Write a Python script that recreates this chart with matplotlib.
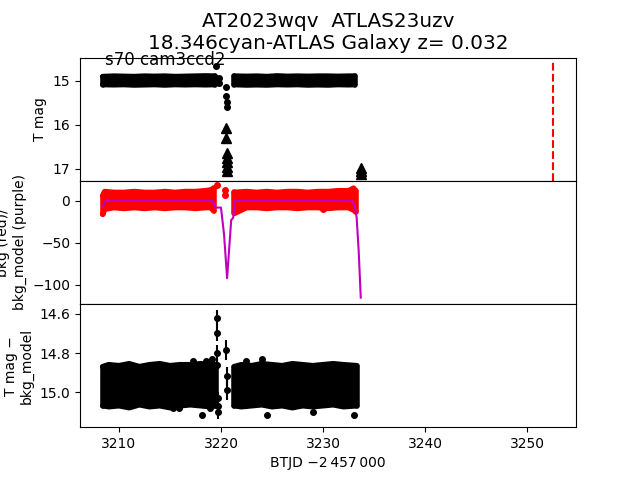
import matplotlib
matplotlib.use("Agg")
import matplotlib.pyplot as plt
import numpy as np

# ---------------- data ----------------
title_l1 = "AT2023wqv  ATLAS23uzv"
title_l2 = "18.346cyan-ATLAS Galaxy z= 0.032"
sector_label = "s70 cam3ccd2"
t_disc = 3252.5

# top panel: T mag band envelopes
tm_t1 = [3208.4, 3209.5, 3210.5, 3211.5, 3212.5, 3213.5, 3214.5, 3215.5, 3216.5, 3217.5, 3218.5, 3219.4]
tm_hi1 = [14.91, 14.90, 14.905, 14.91, 14.90, 14.905, 14.90, 14.91, 14.905, 14.90, 14.895, 14.90]
tm_lo1 = [15.09, 15.095, 15.09, 15.10, 15.095, 15.09, 15.10, 15.09, 15.095, 15.09, 15.095, 15.09]
tm_t2 = [3221.3, 3222.5, 3223.5, 3224.5, 3225.5, 3226.5, 3227.5, 3228.5, 3229.5, 3230.5, 3231.5, 3232.5, 3233.1]
tm_hi2 = [14.90, 14.905, 14.90, 14.91, 14.895, 14.905, 14.90, 14.905, 14.90, 14.90, 14.905, 14.90, 14.90]
tm_lo2 = [15.09, 15.10, 15.095, 15.10, 15.09, 15.095, 15.09, 15.10, 15.095, 15.10, 15.09, 15.095, 15.09]
tm_pt_t = [3219.5, 3219.8, 3219.8, 3220.5, 3220.5, 3220.55, 3220.55]
tm_pt_m = [14.68, 14.95, 15.05, 15.14, 15.36, 15.48, 15.61]
tm_pt_e = [0.03, 0.03, 0.03, 0.04, 0.04, 0.05, 0.05]
ul_t = [3220.5, 3220.5, 3220.55, 3220.55, 3220.6, 3220.6, 3220.55, 3233.7, 3233.7, 3233.75]
ul_m = [16.07, 16.30, 16.64, 16.75, 16.85, 16.95, 17.05, 16.98, 17.05, 17.12]

# middle panel: bkg (red) band + bkg_model (purple)
bk_t1 = [3208.4, 3208.6, 3209.5, 3210.5, 3211.5, 3212.5, 3213.5, 3214.5, 3215.5, 3216.5, 3217.5, 3218.5, 3219.0, 3219.3]
bk_hi1 = [6, 11, 10, 10, 11, 10, 10, 11, 10, 11, 11, 12, 13, 15]
bk_lo1 = [-16, -10, -8, -9, -8, -9, -8, -9, -8, -8, -9, -8, -8, -12]
bk_t2 = [3221.3, 3222.5, 3223.5, 3224.5, 3225.5, 3226.5, 3227.5, 3228.5, 3229.5, 3230.5, 3231.5, 3232.5, 3233.0, 3233.2]
bk_hi2 = [10, 11, 10, 11, 10, 11, 11, 10, 11, 11, 12, 12, 15, 12]
bk_lo2 = [-15, -8, -8, -9, -8, -8, -9, -8, -8, -9, -8, -8, -11, -13]
bk_pt_t = [3219.6, 3220.4, 3220.4, 3230.0]
bk_pt_v = [19, 13, 7, -10]
mod_t = [3208.4, 3208.7, 3212.0, 3216.0, 3219.2, 3219.4, 3220.0, 3220.3, 3220.6, 3221.0, 3221.2, 3221.35, 3225.0, 3230.0, 3232.8, 3233.1, 3233.3, 3233.5, 3233.7]
mod_v = [-7, 0, 0, 0, 0, -8, -8, -40, -92, -23, -20, 0, 0, 0, 0, -5, -20, -60, -115]

# bottom panel: T mag - bkg_model band + outliers
df_t1 = [3208.4, 3209.0, 3210.0, 3211.0, 3212.0, 3213.0, 3214.0, 3215.0, 3216.0, 3217.0, 3218.0, 3219.0, 3219.5]
df_hi1 = [14.87, 14.86, 14.865, 14.855, 14.87, 14.86, 14.855, 14.865, 14.86, 14.86, 14.855, 14.86, 14.86]
df_lo1 = [15.07, 15.075, 15.07, 15.08, 15.065, 15.075, 15.07, 15.08, 15.07, 15.065, 15.07, 15.075, 15.07]
df_t2 = [3221.3, 3222.0, 3223.0, 3224.0, 3225.0, 3226.0, 3227.0, 3228.0, 3229.0, 3230.0, 3231.0, 3232.0, 3233.3]
df_hi2 = [14.87, 14.86, 14.865, 14.855, 14.86, 14.865, 14.855, 14.86, 14.865, 14.86, 14.855, 14.86, 14.865]
df_lo2 = [15.07, 15.075, 15.07, 15.065, 15.075, 15.07, 15.08, 15.07, 15.075, 15.07, 15.065, 15.075, 15.07]
df_pt_t = [3219.6, 3219.6, 3219.65, 3219.65, 3219.7, 3219.7, 3219.7, 3220.5, 3220.55, 3220.6,
           3217.3, 3218.5, 3219.1, 3215.3, 3215.9, 3218.9, 3218.1, 3222.5, 3224.0, 3224.5, 3233.0, 3229.0]
df_pt_m = [14.62, 14.70, 14.80, 14.86, 15.03, 15.07, 15.10, 14.785, 14.92, 14.99,
           14.84, 14.84, 14.83, 15.08, 15.08, 15.08, 15.12, 14.84, 14.83, 15.12, 15.12, 15.10]
df_pt_e = [0.04, 0.04, 0.04, 0.03, 0.03, 0.03, 0.04, 0.05, 0.05, 0.05,
           0.01, 0.01, 0.01, 0.01, 0.01, 0.01, 0.01, 0.01, 0.01, 0.01, 0.01, 0.01]

xlim = (3206.18, 3254.8)

# ---------------- plot ----------------
fig, axes = plt.subplots(3, 1, figsize=(6.4, 4.8), dpi=100, sharex=True)
fig.subplots_adjust(hspace=0)
ax1, ax2, ax3 = axes


def band(ax, t, hi, lo, color):
    ax.fill_between(t, hi, lo, color=color, lw=0)
    ax.plot(t, hi, color=color, lw=4, solid_capstyle='round', solid_joinstyle='round')
    ax.plot(t, lo, color=color, lw=4, solid_capstyle='round', solid_joinstyle='round')
    ax.plot([t[0], t[0]], [hi[0], lo[0]], color=color, lw=4, solid_capstyle='round')
    ax.plot([t[-1], t[-1]], [hi[-1], lo[-1]], color=color, lw=4, solid_capstyle='round')


# top
band(ax1, tm_t1, tm_hi1, tm_lo1, 'k')
band(ax1, tm_t2, tm_hi2, tm_lo2, 'k')
ax1.errorbar(tm_pt_t, tm_pt_m, yerr=tm_pt_e, fmt='o', color='k', ms=4)
ax1.plot(ul_t, ul_m, '^', color='k', ms=7)
ax1.axvline(t_disc, ymax=0.97, color='r', ls='--')
ax1.set_ylim(17.27, 14.48)
ax1.set_yticks([15, 16, 17])
ax1.set_ylabel("T mag")
ax1.text(3208.6, 14.65, sector_label, fontsize=12)

# middle
band(ax2, bk_t1, bk_hi1, bk_lo1, 'r')
band(ax2, bk_t2, bk_hi2, bk_lo2, 'r')
ax2.plot(bk_pt_t, bk_pt_v, 'o', color='r', ms=4)
ax2.plot(mod_t, mod_v, color='m', lw=1.5)
ax2.set_ylim(-122.6, 23.8)
ax2.set_yticks([0, -50, -100])
ax2.set_ylabel("bkg (red)/\nbkg_model (purple)")

# bottom
band(ax3, df_t1, df_hi1, df_lo1, 'k')
band(ax3, df_t2, df_hi2, df_lo2, 'k')
ax3.errorbar(df_pt_t, df_pt_m, yerr=df_pt_e, fmt='o', color='k', ms=4)
ax3.set_ylim(15.18, 14.549)
ax3.set_yticks([14.6, 14.8, 15.0])
ax3.set_ylabel("T mag \u2212\nbkg_model")
ax3.set_xlabel("BTJD \u22122\u2009457\u2009000")
ax3.set_xlim(*xlim)
ax3.set_xticks([3210, 3220, 3230, 3240, 3250])

ax1.set_title(title_l1 + "\n" + title_l2, fontsize=14.4)

fig.savefig("out.png", dpi=100)
